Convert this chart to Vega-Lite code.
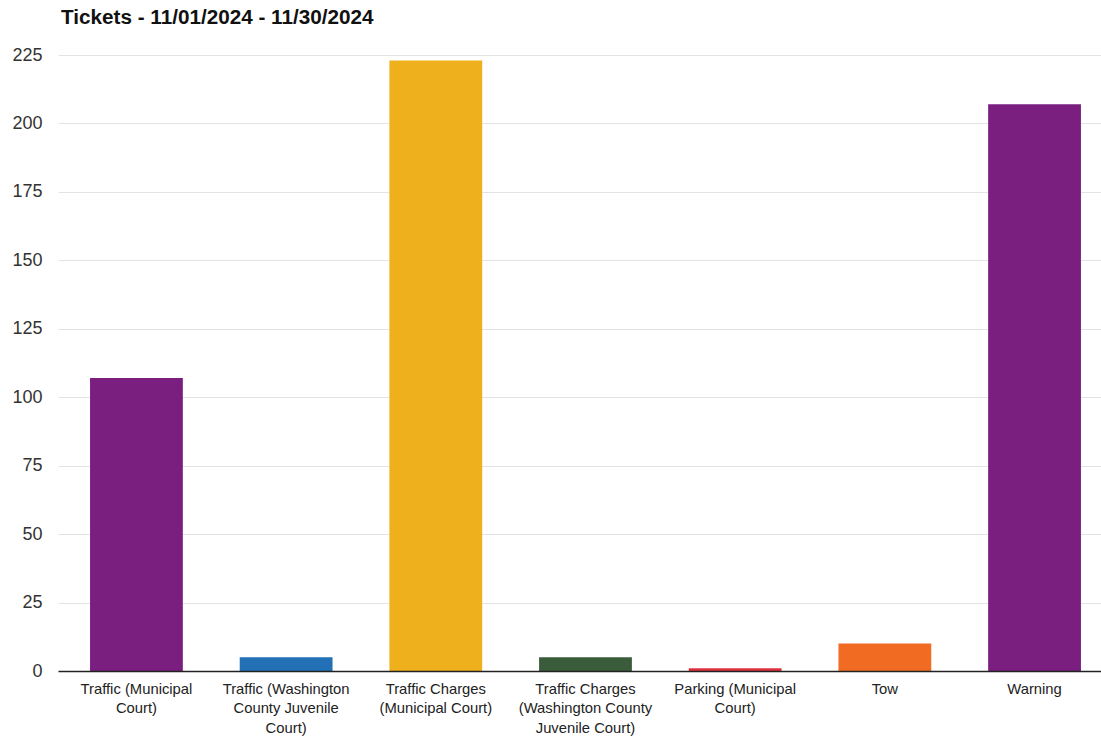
{
  "$schema": "https://vega.github.io/schema/vega-lite/v6.json",
  "autosize": {"type": "none"},
  "width": 1043,
  "height": 616,
  "padding": {"left": 58, "top": 55, "right": 0, "bottom": 65},
  "background": "white",
  "title": {
    "text": "Tickets - 11/01/2024 - 11/30/2024",
    "anchor": "start",
    "frame": "group",
    "font": "Liberation Sans",
    "fontSize": 20.7,
    "fontWeight": "bold",
    "color": "#111111",
    "offset": 17,
    "dx": 3
  },
  "data": {
    "values": [
      {"category": "Traffic (Municipal Court)", "tickets": 107},
      {"category": "Traffic (Washington County Juvenile Court)", "tickets": 5},
      {"category": "Traffic Charges (Municipal Court)", "tickets": 223},
      {"category": "Traffic Charges (Washington County Juvenile Court)", "tickets": 5},
      {"category": "Parking (Municipal Court)", "tickets": 1},
      {"category": "Tow", "tickets": 10},
      {"category": "Warning", "tickets": 207}
    ]
  },
  "mark": {"type": "bar"},
  "encoding": {
    "x": {
      "field": "category",
      "type": "nominal",
      "sort": null,
      "scale": {"paddingInner": 0.38, "paddingOuter": 0.174, "align": 0.615},
      "axis": {
        "title": null,
        "labelAngle": 0,
        "labelFont": "Liberation Sans",
        "labelFontSize": 14.8,
        "labelColor": "#222222",
        "labelPadding": 10,
        "labelLineHeight": 19.5,
        "labelBaseline": "top",
        "ticks": false,
        "domainColor": "#222222",
        "domainWidth": 1.5,
        "zindex": 1,
        "labelExpr": "datum.value == 'Traffic (Municipal Court)' ? ['Traffic (Municipal', 'Court)'] : datum.value == 'Traffic (Washington County Juvenile Court)' ? ['Traffic (Washington', 'County Juvenile', 'Court)'] : datum.value == 'Traffic Charges (Municipal Court)' ? ['Traffic Charges', '(Municipal Court)'] : datum.value == 'Traffic Charges (Washington County Juvenile Court)' ? ['Traffic Charges', '(Washington County', 'Juvenile Court)'] : datum.value == 'Parking (Municipal Court)' ? ['Parking (Municipal', 'Court)'] : datum.value"
      }
    },
    "y": {
      "field": "tickets",
      "type": "quantitative",
      "scale": {"domain": [0, 225], "nice": false},
      "axis": {
        "title": null,
        "values": [0, 25, 50, 75, 100, 125, 150, 175, 200, 225],
        "labelFont": "Liberation Sans",
        "labelFontSize": 18,
        "labelColor": "#333333",
        "labelPadding": 16,
        "ticks": false,
        "domain": false,
        "gridColor": "#e3e3e3",
        "gridWidth": 1
      }
    },
    "color": {
      "field": "category",
      "type": "nominal",
      "legend": null,
      "scale": {
        "domain": [
          "Traffic (Municipal Court)",
          "Traffic (Washington County Juvenile Court)",
          "Traffic Charges (Municipal Court)",
          "Traffic Charges (Washington County Juvenile Court)",
          "Parking (Municipal Court)",
          "Tow",
          "Warning"
        ],
        "range": ["#7a1f80", "#2270b6", "#efb01d", "#3a5c3b", "#e0303e", "#f26b22", "#7a1f80"]
      }
    }
  },
  "config": {"view": {"stroke": null}}
}
